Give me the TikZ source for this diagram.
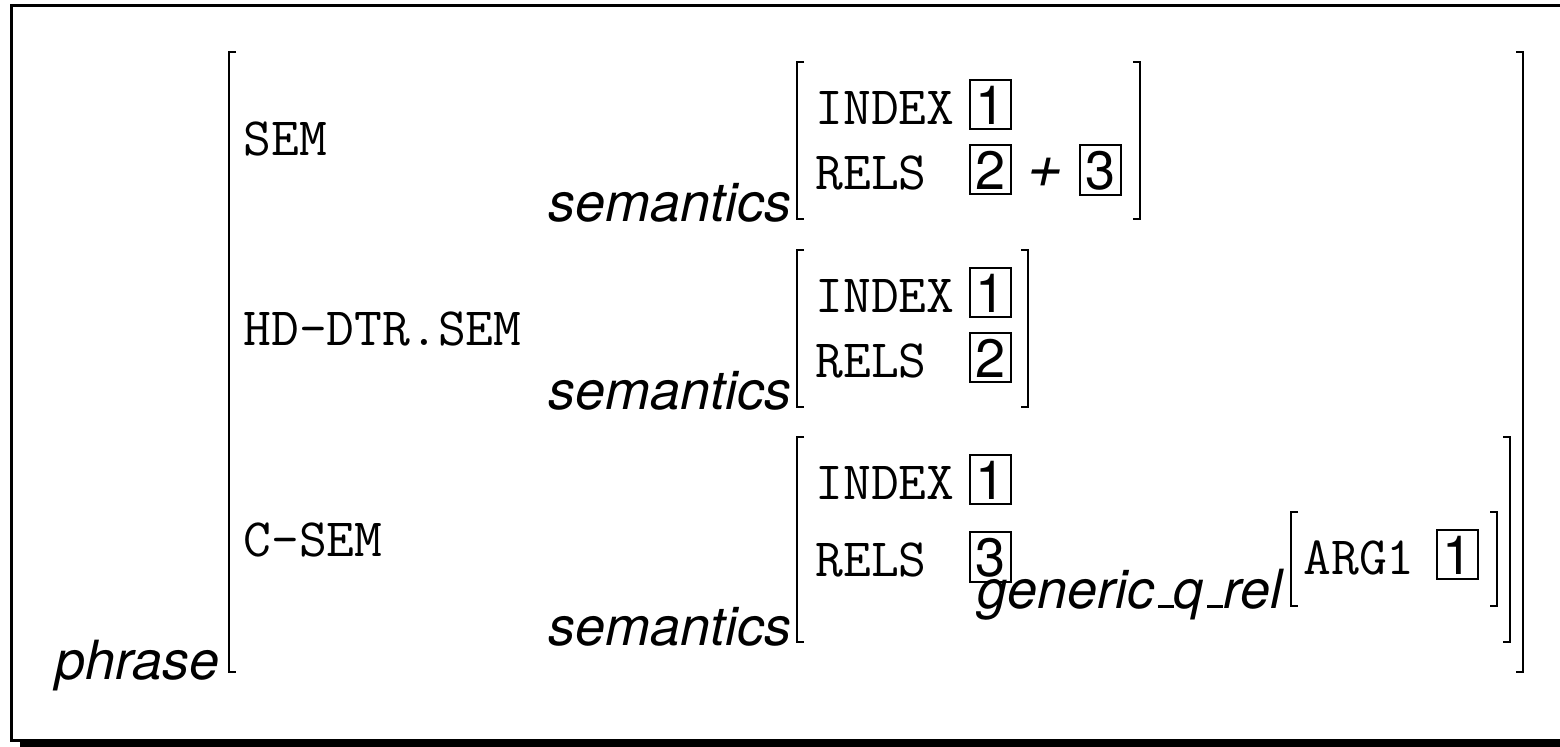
\documentclass[tikz,border=0pt]{standalone}
\usepackage{fontspec}
\setsansfont{TeX Gyre Heros}
\newfontfamily\slantsans[FakeSlant=0.22]{TeX Gyre Heros}

\newcommand{\openbr}[3]{\draw[brk] (#1+7,#2) -- (#1,#2) -- (#1,#3) -- (#1+7,#3);}
\newcommand{\closebr}[3]{\draw[brk] (#1-7,#2) -- (#1,#2) -- (#1,#3) -- (#1-7,#3);}
\newcommand{\usc}{\leavevmode\kern.06em\vbox{\hrule width.3em height.06em}}

\begin{document}
\begin{tikzpicture}[x=0.5pt,y=-0.5pt,
  attr/.style={anchor=base west,inner sep=0pt,font=\fontsize{27}{30}\selectfont\ttfamily},
  sort/.style={anchor=base east,inner sep=0pt,font=\fontsize{27}{30}\selectfont\sffamily\itshape},
  tag/.style={draw,line width=1pt,anchor=base west,inner xsep=2.8pt,inner ysep=2.7pt,
    font=\fontsize{27}{30}\selectfont\sffamily},
  brk/.style={line width=0.9pt}]

  \useasboundingbox (0,0) rectangle (1560,746);
  \clip (0,0) rectangle (1560,746);

  % shadowed frame
  \draw[line width=1.5pt] (11.5,5.5) rectangle (1600,740);
  \fill (20,740) rectangle (1600,760);

  % phrase
  \node[sort] (phrase) at (220,679) {phrase};
  \openbr{229}{52}{672}
  \closebr{1523}{52}{672}
  \node[attr] (sem) at (243,155) {SEM};
  \node[attr] (hdsem) at (243,345) {HD-DTR.SEM};
  \node[attr] (csem) at (243,556) {C-SEM};

  % SEM value
  \node[sort] (semtype) at (792,221) {semantics};
  \openbr{797}{62}{219}
  \closebr{1140}{62}{219}
  \node[attr] (semidx) at (815,124) {INDEX};
  \node[tag] (semidxtag) at (969,124) {1};
  \node[attr] (semrels) at (815,189) {RELS};
  \node[tag] (semrelstag) at (969,189) {2};
  \node[anchor=base,inner sep=0pt,font=\fontsize{31}{34}\selectfont\slantsans] (plus) at (1043,187) {+};
  \node[tag] (semrelstagb) at (1079,189) {3};

  % HD-DTR.SEM value
  \node[sort] (hdtype) at (792,409) {semantics};
  \openbr{797}{250}{407}
  \closebr{1028}{250}{407}
  \node[attr] (hdidx) at (815,312) {INDEX};
  \node[tag] (hdidxtag) at (969,312) {1};
  \node[attr] (hdrels) at (815,377) {RELS};
  \node[tag] (hdrelstag) at (969,377) {2};

  % C-SEM value
  \node[sort] (ctype) at (792,645) {semantics};
  \openbr{797}{437}{642}
  \closebr{1510}{437}{642}
  \node[attr] (cidx) at (815,499) {INDEX};
  \node[tag] (cidxtag) at (969,499) {1};
  \node[attr] (crels) at (815,576) {RELS};
  \node[tag] (crelstag) at (969,576) {3};

  % quantifier relation
  \node[sort] (qtype) at (1283,608) {generic\usc q\usc rel};
  \openbr{1291}{512}{606}
  \closebr{1497}{512}{606}
  \node[attr] (qarg) at (1303,574) {ARG1};
  \node[tag] (qargtag) at (1436,574) {1};

\end{tikzpicture}
\end{document}
